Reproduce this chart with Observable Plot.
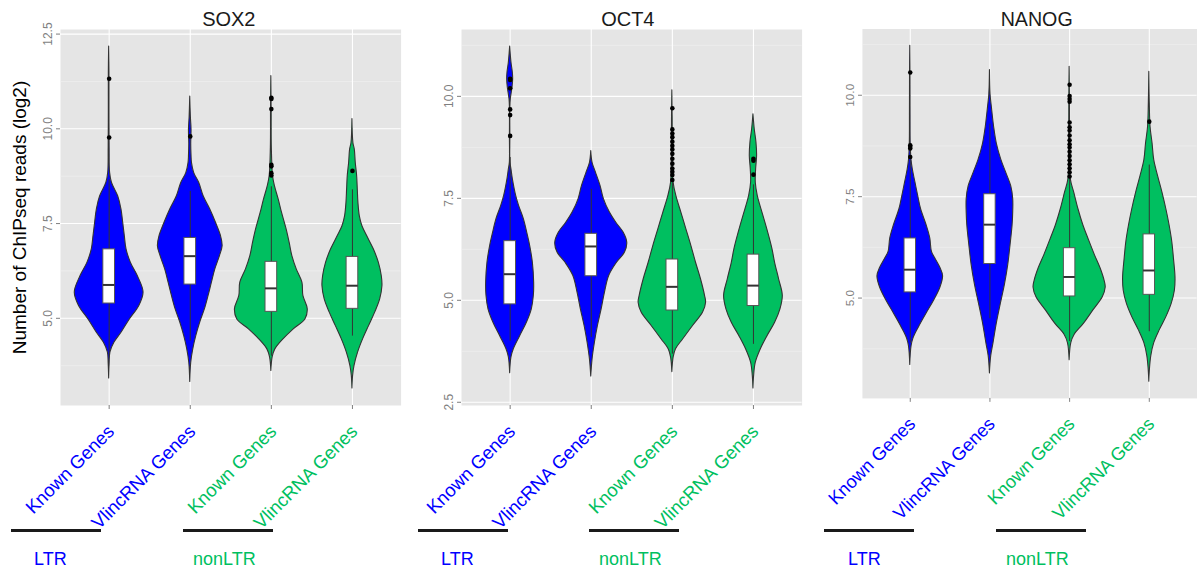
<!DOCTYPE html>
<html><head><meta charset="utf-8">
<script src="https://cdn.jsdelivr.net/npm/d3@7"></script>
<script src="https://cdn.jsdelivr.net/npm/@observablehq/plot@0.6"></script>
<style>
html,body{margin:0;padding:0;background:#fff;overflow:hidden;width:1197px;height:571px;}
#wrap{position:relative;width:1197px;height:571px;overflow:hidden;font-family:"Liberation Sans",Arial,Helvetica,sans-serif;}
.panel{position:absolute;top:0;}
.bar{position:absolute;height:3px;background:#1a1a1a;top:529px;}
.grp{position:absolute;top:550px;font-size:18px;line-height:18px;white-space:nowrap;}
</style></head><body><div id="wrap"></div>
<script>
// ---------------- data ----------------
const genes = ["SOX2", "OCT4", "NANOG"];
const categories = ["Known Genes", "VlincRNA Genes", "Known Genes", "VlincRNA Genes"];
const categoryGroups = ["LTR", "LTR", "nonLTR", "nonLTR"];
const groupNames = ["LTR", "nonLTR"];
const groupColors = {LTR: "#0000FF", nonLTR: "#00BF60"};
const yTickValues = [2.5, 5, 7.5, 10, 12.5];
const yMinorValues = [3.75, 6.25, 8.75, 11.25];
const yLabel = "Number of ChIPseq reads (log2)";

// violin profiles: [value (log2), half width (category units)]
const sox2Profiles = [
  [[12.17,0],[11.5,0.004],[10.5,0.004],[9.5,0.006],[8.83,0.012],[8.57,0.035],[8.22,0.111],[7.87,0.152],[7.52,0.173],[7.17,0.193],[6.82,0.214],[6.47,0.267],[6.11,0.354],[5.68,0.424],[5.32,0.370],[4.97,0.255],[4.62,0.152],[4.36,0.066],[4.10,0.016],[3.8,0.006],[3.41,0]],
  [[10.85,0],[10.3,0.008],[9.97,0.016],[9.6,0.012],[9.27,0.016],[9.10,0.021],[8.83,0.049],[8.57,0.111],[8.22,0.165],[7.87,0.247],[7.52,0.317],[7.17,0.379],[6.90,0.399],[6.64,0.366],[6.29,0.309],[5.94,0.267],[5.59,0.226],[5.24,0.181],[4.89,0.123],[4.53,0.074],[4.18,0.037],[3.83,0.012],[3.32,0]],
  [[11.39,0],[10.5,0.004],[9.5,0.006],[8.75,0.021],[8.48,0.045],[8.13,0.091],[7.78,0.132],[7.34,0.189],[6.99,0.226],[6.64,0.259],[6.29,0.313],[5.94,0.383],[5.59,0.395],[5.24,0.449],[4.97,0.420],[4.71,0.276],[4.45,0.152],[4.18,0.049],[3.97,0.016],[3.61,0]],
  [[10.26,0],[9.62,0.012],[9.45,0.029],[9.10,0.041],[8.75,0.058],[8.39,0.066],[8.04,0.074],[7.69,0.091],[7.43,0.123],[7.17,0.181],[6.82,0.263],[6.47,0.325],[6.11,0.362],[5.85,0.370],[5.50,0.342],[5.15,0.280],[4.80,0.206],[4.45,0.132],[4.10,0.070],[3.74,0.025],[3.48,0.008],[3.15,0]]
];
const oct4Profiles = [
  [[11.22,0],[10.83,0.016],[10.58,0.033],[10.42,0.037],[10.21,0.029],[9.93,0.008],[9.72,0.003],[9.0,0.003],[8.37,0.004],[8.21,0.016],[7.97,0.033],[7.56,0.074],[7.31,0.111],[6.99,0.169],[6.66,0.210],[6.33,0.247],[5.92,0.280],[5.43,0.296],[5.11,0.292],[4.78,0.267],[4.45,0.206],[4.12,0.123],[3.80,0.045],[3.60,0.016],[3.21,0]],
  [[8.66,0],[8.37,0.016],[8.13,0.058],[7.80,0.115],[7.48,0.156],[7.15,0.230],[6.90,0.309],[6.66,0.399],[6.41,0.444],[6.17,0.416],[5.92,0.317],[5.60,0.222],[5.19,0.169],[4.78,0.128],[4.37,0.082],[3.96,0.045],[3.55,0.016],[3.13,0]],
  [[10.15,0],[9.5,0.004],[8.5,0.006],[7.88,0.016],[7.56,0.049],[7.15,0.111],[6.74,0.173],[6.33,0.235],[5.92,0.292],[5.51,0.354],[5.11,0.403],[4.94,0.416],[4.70,0.379],[4.37,0.255],[4.04,0.132],[3.80,0.045],[3.60,0.016],[3.24,0]],
  [[9.56,0],[9.19,0.016],[8.87,0.037],[8.54,0.045],[8.21,0.033],[7.88,0.029],[7.56,0.053],[7.23,0.099],[6.90,0.148],[6.58,0.193],[6.25,0.235],[5.92,0.267],[5.51,0.317],[5.11,0.362],[4.78,0.333],[4.45,0.267],[4.12,0.173],[3.80,0.091],[3.47,0.029],[3.14,0.008],[2.84,0]]
];
const nanogProfiles = [
  [[11.22,0],[10.5,0.003],[9.5,0.004],[8.8,0.006],[8.40,0.016],[8.16,0.033],[7.84,0.066],[7.52,0.099],[7.19,0.136],[6.79,0.206],[6.47,0.251],[6.14,0.272],[5.98,0.313],[5.74,0.379],[5.54,0.412],[5.26,0.379],[4.94,0.300],[4.61,0.202],[4.29,0.111],[4.01,0.041],[3.81,0.016],[3.35,0]],
  [[10.62,0],[10.01,0.008],[9.69,0.025],[9.21,0.053],[8.81,0.086],[8.40,0.144],[8.08,0.206],[7.76,0.267],[7.44,0.292],[7.11,0.292],[6.79,0.284],[6.31,0.259],[5.82,0.230],[5.34,0.189],[4.85,0.136],[4.37,0.086],[3.89,0.045],[3.57,0.016],[3.14,0]],
  [[10.70,0],[9.8,0.004],[8.8,0.006],[7.92,0.016],[7.60,0.058],[7.19,0.111],[6.79,0.173],[6.47,0.235],[6.06,0.317],[5.74,0.387],[5.42,0.440],[5.26,0.453],[5.02,0.416],[4.69,0.296],[4.37,0.181],[4.09,0.062],[3.89,0.021],[3.47,0]],
  [[10.58,0],[9.8,0.006],[9.21,0.016],[8.81,0.041],[8.40,0.062],[8.00,0.111],[7.60,0.165],[7.19,0.214],[6.79,0.255],[6.39,0.288],[5.98,0.309],[5.50,0.329],[5.18,0.321],[4.85,0.280],[4.53,0.214],[4.21,0.132],[3.89,0.062],[3.57,0.025],[3.24,0.008],[2.94,0]]
];

// box statistics: [lower whisker, Q1, median, Q3, upper whisker]
const sox2Boxes = [[4.0,5.39,5.88,6.82,8.66],[4.40,5.89,6.64,7.12,8.35],[4.0,5.17,5.79,6.49,8.47],[4.53,5.25,5.86,6.62,8.39]];
const oct4Boxes = [[4.00,4.90,5.64,6.45,8.5],[4.09,5.59,6.32,6.63,7.72],[3.68,4.75,5.33,6.00,7.88],[3.92,4.86,5.36,6.12,7.83]];
const nanogBoxes = [[3.89,5.14,5.70,6.47,8.4],[4.49,5.84,6.81,7.56,9.29],[3.93,5.04,5.52,6.23,7.96],[4.17,5.08,5.68,6.57,8.28]];

// outliers: [category index (1-4), value]
const sox2Outliers = [[1,11.32],[1,9.77],[2,9.80],[3,10.82],[3,10.79],[3,10.52],[3,9.05],[3,9.01],[3,8.83],[3,8.77],[4,8.89]];
const oct4Outliers = [[1,10.43],[1,10.40],[1,10.20],[1,9.68],[1,9.54],[1,9.03],
  [3,9.71],[3,9.19],[3,9.09],[3,9.00],[3,8.89],[3,8.79],[3,8.70],[3,8.59],[3,8.47],[3,8.35],[3,8.23],[3,8.15],[3,8.07],[3,7.95],
  [4,8.47],[4,8.42],[4,8.08]];
const nanogOutliers = [[1,10.56],[1,8.77],[1,8.73],[1,8.69],[1,8.48],
  [3,10.26],[3,9.98],[3,9.91],[3,9.84],[3,9.33],[3,9.21],[3,9.13],[3,9.01],[3,8.89],[3,8.79],[3,8.71],[3,8.61],[3,8.50],[3,8.40],[3,8.30],[3,8.20],[3,8.10],[3,8.00],
  [4,9.35]];

// ---------------- layout ----------------
const FONT = '"Liberation Sans", Arial, Helvetica, sans-serif';
const panelLefts = [0, 401, 803];
const titleDx = [-2, -4, 7];
const barLefts = [[11, 183], [418, 589], [824, 996]];
const labelLefts = [[34, 193], [441, 599], [848, 1006]];
const data = [
  [sox2Profiles, sox2Boxes, sox2Outliers],
  [oct4Profiles, oct4Boxes, oct4Outliers],
  [nanogProfiles, nanogBoxes, nanogOutliers]
];
const wrap = document.getElementById("wrap");
const BOXW = 0.072;

genes.forEach((gene, p) => {
  const [profiles, boxes, outliers] = data[p];
  const vals = profiles.flat().map(d => d[0]);
  const lo = d3.min(vals), hi = d3.max(vals), pad = (hi - lo) * 0.05;
  const domain = [lo - pad, hi + pad];
  const major = yTickValues.filter(t => t >= domain[0] && t <= domain[1]);
  const minor = yMinorValues.filter(t => t >= domain[0] && t <= domain[1]);
  const pos = categories.map((c, i) => i + 1);

  const marks = [
    Plot.frame({fill: "#E5E5E5"}),
    Plot.gridY(minor, {stroke: "#F2F2F2", strokeOpacity: 1, strokeWidth: 0.6}),
    Plot.gridY(major, {stroke: "#FFFFFF", strokeOpacity: 1, strokeWidth: 1.1}),
    Plot.gridX(pos, {stroke: "#FFFFFF", strokeOpacity: 1, strokeWidth: 1.1})
  ];
  profiles.forEach((prof, i) => {
    const c = i + 1;
    const col = groupColors[categoryGroups[i]];
    marks.push(Plot.areaX(prof, {
      y: d => d[0], x1: d => c - d[1], x2: d => c + d[1],
      fill: col, stroke: "#333333", strokeWidth: 1.1, curve: "catmull-rom"
    }));
  });
  const boxRows = boxes.map((b, i) => ({c: i + 1, lo: b[0], q1: b[1], med: b[2], q3: b[3], hi: b[4]}));
  marks.push(
    Plot.ruleX(boxRows, {x: "c", y1: "lo", y2: "hi", stroke: "#333333", strokeWidth: 1}),
    Plot.rect(boxRows, {x1: d => d.c - BOXW, x2: d => d.c + BOXW, y1: "q1", y2: "q3", fill: "#FFFFFF", stroke: "#555555", strokeWidth: 1}),
    Plot.ruleY(boxRows, {y: "med", x1: d => d.c - BOXW, x2: d => d.c + BOXW, stroke: "#333333", strokeWidth: 2}),
    Plot.dot(outliers, {x: d => d[0], y: d => d[1], r: 2.3, fill: "#000000", stroke: null}),
    Plot.axisX(pos, {tickSize: 4, tickFormat: () => "", label: null, stroke: "#7F7F7F", strokeWidth: 1}),
    Plot.axisY(major, {tickSize: 4, tickFormat: () => "", label: null, stroke: "#7F7F7F", strokeWidth: 1}),
    Plot.text(major, {y: d => d, text: d => d3.format(".1f")(d), frameAnchor: "left", dx: -12, rotate: -90,
      textAnchor: "middle", lineAnchor: "middle", fontSize: 12, fill: "#7F7F7F"}),
    Plot.text([gene], {frameAnchor: "top", dy: -9.5, dx: titleDx[p], textAnchor: "middle", lineAnchor: "middle", fontSize: 20, fill: "#1a1a1a"})
  );
  categories.forEach((cat, i) => {
    marks.push(Plot.text([i + 1], {x: d => d, text: () => cat, frameAnchor: "bottom", dy: 23, dx: 2,
      rotate: -45, textAnchor: "end", lineAnchor: "middle", fontSize: 18.5, fill: groupColors[categoryGroups[i]]}));
  });
  if (p === 0) {
    marks.push(Plot.text([yLabel], {frameAnchor: "left", dx: -41, rotate: -90, textAnchor: "middle",
      lineAnchor: "middle", fontSize: 19, fill: "#000000"}));
  }
  const chart = Plot.plot({
    width: 401, height: 571,
    marginLeft: 60, marginRight: 0.4, marginTop: 29, marginBottom: 166,
    style: {fontFamily: FONT, background: "transparent", overflow: "visible"},
    x: {domain: [0.4, 4.6], axis: null, label: null},
    y: {domain, axis: null, label: null},
    marks
  });
  const holder = document.createElement("div");
  holder.className = "panel";
  holder.style.left = panelLefts[p] + "px";
  holder.appendChild(chart);
  wrap.appendChild(holder);

  groupNames.forEach((g, k) => {
    const bar = document.createElement("div");
    bar.className = "bar";
    bar.style.left = barLefts[p][k] + "px";
    bar.style.width = "90px";
    wrap.appendChild(bar);
    const lab = document.createElement("div");
    lab.className = "grp";
    lab.style.left = labelLefts[p][k] + "px";
    lab.style.color = groupColors[g];
    lab.textContent = g;
    wrap.appendChild(lab);
  });
});
</script></body></html>
